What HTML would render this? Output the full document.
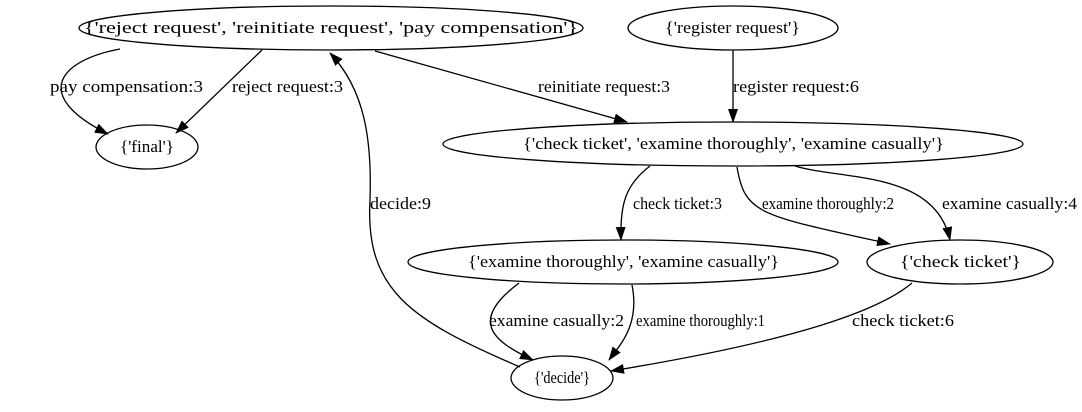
<!DOCTYPE html>
<html><head><style>
body{margin:0;background:#fff;}
</style></head><body>
<svg width="1082" height="407" viewBox="0 0 1082 407" xmlns="http://www.w3.org/2000/svg">
<defs><marker id="a" markerWidth="14" markerHeight="10" refX="13" refY="5" orient="auto" markerUnits="userSpaceOnUse"><path d="M0,0 L14,5 L0,10 z" fill="#000"/></marker></defs>
<g fill="none" stroke="#000" stroke-width="1.3">
<ellipse cx="331" cy="28" rx="252" ry="22"/>
<ellipse cx="733" cy="28" rx="105" ry="22"/>
<ellipse cx="147" cy="147" rx="51" ry="22"/>
<ellipse cx="733" cy="144" rx="290" ry="22"/>
<ellipse cx="623" cy="262" rx="215" ry="22"/>
<ellipse cx="960" cy="262" rx="93" ry="22"/>
<ellipse cx="562" cy="378" rx="51" ry="22"/>
</g>
<g fill="none" stroke="#000" stroke-width="1.3" marker-end="url(#a)">
<path d="M120,49 C60,60 30,95 108,134"/>
<path d="M262,50 L176,133"/>
<path d="M375,51 L627,122"/>
<path d="M733,50 L733,122"/>
<path d="M650,166 C625,185 620,205 621,240"/>
<path d="M737,167 C745,215 760,215 890,244"/>
<path d="M795,166 C840,180 935,170 950,240"/>
<path d="M519,283 C470,320 490,340 533,360"/>
<path d="M632,285 C640,325 620,345 609,360"/>
<path d="M912,283 C880,310 800,340 611,371"/>
<path d="M520,367 C410,320 365,290 370,200 C372,140 365,90 330,53"/>
</g>
<g font-family="Liberation Serif, DejaVu Serif, serif" font-size="17" fill="#000">
<text x="84" y="33" textLength="494" lengthAdjust="spacingAndGlyphs">{'reject request', 'reinitiate request', 'pay compensation'}</text>
<text x="665" y="33" textLength="135" lengthAdjust="spacingAndGlyphs">{'register request'}</text>
<text x="120" y="152" textLength="54" lengthAdjust="spacingAndGlyphs">{'final'}</text>
<text x="523" y="149" textLength="421" lengthAdjust="spacingAndGlyphs">{'check ticket', 'examine thoroughly', 'examine casually'}</text>
<text x="468" y="267" textLength="311" lengthAdjust="spacingAndGlyphs">{'examine thoroughly', 'examine casually'}</text>
<text x="900" y="267" textLength="121" lengthAdjust="spacingAndGlyphs">{'check ticket'}</text>
<text x="534" y="383" textLength="56" lengthAdjust="spacingAndGlyphs">{'decide'}</text>
<text x="50" y="92" textLength="153" lengthAdjust="spacingAndGlyphs">pay compensation:3</text>
<text x="232" y="92" textLength="111" lengthAdjust="spacingAndGlyphs">reject request:3</text>
<text x="538" y="92" textLength="132" lengthAdjust="spacingAndGlyphs">reinitiate request:3</text>
<text x="733" y="92" textLength="126" lengthAdjust="spacingAndGlyphs">register request:6</text>
<text x="633" y="209" textLength="89" lengthAdjust="spacingAndGlyphs">check ticket:3</text>
<text x="762" y="209" textLength="132" lengthAdjust="spacingAndGlyphs">examine thoroughly:2</text>
<text x="942" y="209" textLength="135" lengthAdjust="spacingAndGlyphs">examine casually:4</text>
<text x="370" y="209" textLength="61" lengthAdjust="spacingAndGlyphs">decide:9</text>
<text x="489" y="326" textLength="135" lengthAdjust="spacingAndGlyphs">examine casually:2</text>
<text x="636" y="326" textLength="129" lengthAdjust="spacingAndGlyphs">examine thoroughly:1</text>
<text x="852" y="326" textLength="102" lengthAdjust="spacingAndGlyphs">check ticket:6</text>
</g>
</svg>
</body></html>
